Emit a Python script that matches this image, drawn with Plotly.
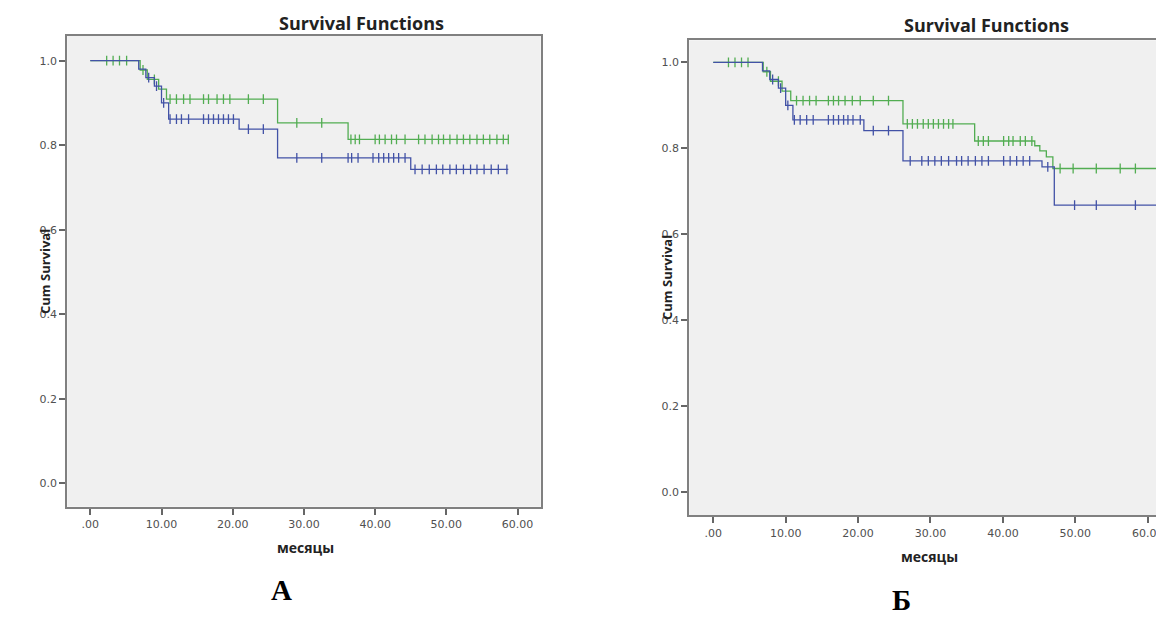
import plotly.graph_objects as go

# ---------------- Data ----------------
# Panel A
a_green_event_t = [7.0, 8.0, 9.6, 10.7, 26.3, 36.2]
a_green_event_s = [0.978, 0.956, 0.933, 0.909, 0.853, 0.814]
a_green_cens = [2.3, 3.2, 4.1, 5.1, 7.4, 9.0, 11.2, 12.1, 13.1, 14.0, 15.9, 16.6,
                17.8, 18.7, 19.6, 22.2, 24.3, 29.0, 32.5, 36.6, 37.2, 37.8, 40.0,
                40.6, 41.4, 42.3, 43.0, 44.2, 46.1, 47.0, 48.0, 48.9, 49.6, 50.5,
                51.5, 52.4, 53.3, 54.3, 55.2, 56.1, 57.1, 58.0, 58.7]
a_green_end = 58.8

a_blue_event_t = [6.8, 7.8, 9.0, 10.0, 11.0, 20.9, 26.3, 45.0]
a_blue_event_s = [0.98, 0.96, 0.94, 0.90, 0.862, 0.838, 0.770, 0.743]
a_blue_cens = [8.2, 9.3, 10.3, 11.2, 12.1, 12.8, 13.8, 15.9, 16.6, 17.3, 18.0,
               18.7, 19.4, 20.1, 22.2, 24.3, 29.0, 32.5, 36.2, 36.7, 37.6, 39.7,
               40.5, 41.2, 41.9, 42.6, 43.3, 44.2, 45.6, 46.6, 47.6, 48.6, 49.5,
               50.5, 51.4, 52.4, 53.4, 54.3, 55.3, 56.3, 57.3, 58.5]
a_blue_end = 58.7

# Panel Б
b_green_event_t = [6.9, 7.9, 9.5, 10.7, 26.2, 36.1, 44.4, 45.1, 46.0, 46.9]
b_green_event_s = [0.978, 0.956, 0.933, 0.911, 0.857, 0.817, 0.806, 0.794, 0.780, 0.753]
b_green_cens = [2.1, 3.0, 3.9, 4.8, 7.4, 9.0, 11.5, 12.4, 13.3, 14.2, 15.9, 16.6,
                17.3, 18.2, 19.2, 20.3, 22.1, 24.2, 26.8, 27.5, 28.2, 29.0, 29.7,
                30.4, 31.1, 31.8, 32.5, 33.1, 36.6, 37.3, 38.0, 40.1, 40.8, 41.4,
                42.4, 43.1, 44.0, 47.9, 49.7, 52.9, 56.2, 58.3, 61.3]
b_green_end = 63.0

b_blue_event_t = [6.8, 7.8, 9.0, 10.0, 11.0, 20.8, 26.2, 45.4, 47.1]
b_blue_event_s = [0.98, 0.96, 0.94, 0.90, 0.866, 0.841, 0.771, 0.757, 0.668]
b_blue_cens = [8.2, 9.3, 10.3, 11.2, 12.0, 12.9, 13.8, 15.9, 16.6, 17.3, 18.0,
               18.6, 19.3, 20.3, 22.1, 24.2, 27.2, 28.8, 29.7, 30.6, 31.5, 32.5,
               33.6, 34.3, 35.2, 36.2, 37.1, 38.0, 40.1, 41.0, 41.9, 42.8, 43.7,
               46.2, 49.9, 52.9, 58.3, 61.3]
b_blue_end = 63.0

x_tickvals = [0, 10, 20, 30, 40, 50, 60]
x_ticktext = [".00", "10.00", "20.00", "30.00", "40.00", "50.00", "60.00"]
y_tickvals = [0.0, 0.2, 0.4, 0.6, 0.8, 1.0]
y_ticktext = ["0.0", "0.2", "0.4", "0.6", "0.8", "1.0"]

GREEN = "#52ad52"
BLUE = "#4252a6"

# page body has an 8px default margin: the figure is placed at (8, 8)
OFF = 8
W, H = 1164 - OFF, 617 - OFF


def surv_at(t, ev_t, ev_s):
    s = 1.0
    for et, es in zip(ev_t, ev_s):
        if et <= t:
            s = es
    return s


def add_group(fig, ev_t, ev_s, cens, end, color, xa, ya):
    xs = [0.0] + ev_t + [end]
    ys = [1.0] + ev_s + [ev_s[-1]]
    fig.add_trace(go.Scatter(x=xs, y=ys, mode="lines", line=dict(color=color, width=1.3, shape="hv"),
                             xaxis=xa, yaxis=ya, showlegend=False, hoverinfo="skip"))
    cy = [surv_at(t, ev_t, ev_s) for t in cens]
    fig.add_trace(go.Scatter(x=cens, y=cy, mode="markers",
                             marker=dict(symbol="line-ns", size=7, line=dict(color=color, width=1.3)),
                             xaxis=xa, yaxis=ya, showlegend=False, hoverinfo="skip"))


fig = go.Figure()
add_group(fig, a_green_event_t, a_green_event_s, a_green_cens, a_green_end, GREEN, "x", "y")
add_group(fig, a_blue_event_t, a_blue_event_s, a_blue_cens, a_blue_end, BLUE, "x", "y")
add_group(fig, b_green_event_t, b_green_event_s, b_green_cens, b_green_end, GREEN, "x2", "y2")
add_group(fig, b_blue_event_t, b_blue_event_s, b_blue_cens, b_blue_end, BLUE, "x2", "y2")


def px(x):
    return (x - OFF) / W


def py(y):
    return 1 - (y - OFF) / H


tickfont = dict(family="DejaVu Sans", size=11, color="#505050")
axis_common = dict(showline=True, linecolor="#808080", linewidth=2, ticks="outside", ticklen=6,
                   tickwidth=1.5, tickcolor="#666666", showgrid=False, zeroline=False,
                   tickfont=tickfont, automargin=False, fixedrange=True)

fig.update_layout(
    width=W, height=H,
    margin=dict(l=0, r=0, t=0, b=0),
    paper_bgcolor="white", plot_bgcolor="#f0f0f0",
    xaxis=dict(domain=[px(67.3), px(540.7)], range=[-3.23, 63.25], anchor="y", mirror=True,
               tickvals=x_tickvals, ticktext=x_ticktext, **axis_common),
    yaxis=dict(domain=[py(506.7), py(35.7)], range=[-0.0554, 1.0592], anchor="x", mirror=True,
               tickvals=y_tickvals, ticktext=y_ticktext, **axis_common),
    xaxis2=dict(domain=[px(689.3), 1.0], range=[-3.31, 62.25], anchor="y2", mirror=True,
                tickvals=x_tickvals, ticktext=x_ticktext, **axis_common),
    yaxis2=dict(domain=[py(515.3), py(40.3)], range=[-0.0535, 1.0512], anchor="x2", mirror=False,
                tickvals=y_tickvals, ticktext=y_ticktext, **axis_common),
)

title_font = dict(family="Open Sans", size=18, color="#222222")
label_font = dict(family="Open Sans", size=13, color="#222222")
xlab_font = dict(family="Open Sans", size=14, color="#222222")
letter_font = dict(family="Liberation Serif", size=29, color="#000000")

annots = [
    ("<b>Survival Functions</b>", 361, 23, 0, title_font),
    ("<b>Survival Functions</b>", 986, 25, 0, title_font),
    ("<b>Cum Survival</b>", 45, 272, -90, label_font),
    ("<b>Cum Survival</b>", 667, 278, -90, label_font),
    ("<b>месяцы</b>", 305, 547, 0, xlab_font),
    ("<b>месяцы</b>", 929, 556, 0, xlab_font),
    ("<b>А</b>", 281, 590, 0, letter_font),
    ("<b>Б</b>", 901, 600, 0, letter_font),
]
for text, x, y, ang, font in annots:
    fig.add_annotation(text=text, x=px(x), y=py(y), xref="paper", yref="paper",
                       xanchor="center", yanchor="middle", showarrow=False,
                       textangle=ang, font=font)

fig.write_html("out.html")
